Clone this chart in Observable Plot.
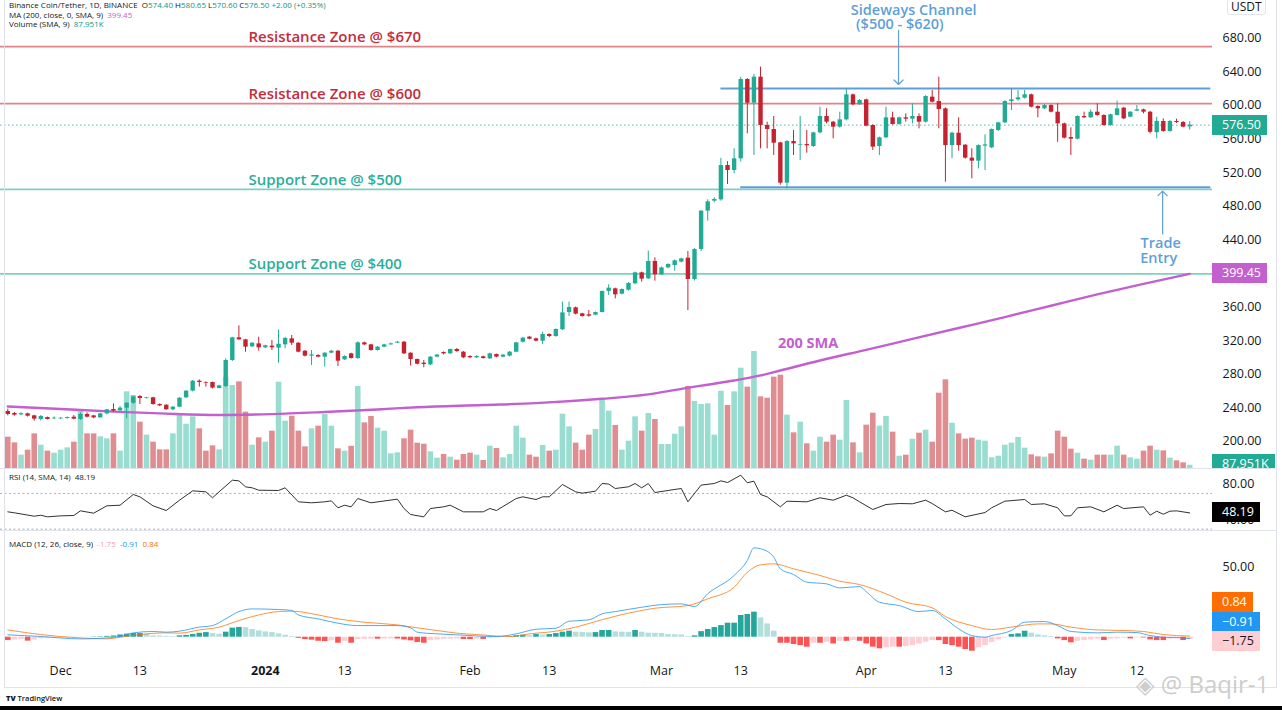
<!DOCTYPE html>
<html><head><meta charset="utf-8">
<script src="https://cdn.jsdelivr.net/npm/d3@7"></script>
<script src="https://cdn.jsdelivr.net/npm/@observablehq/plot@0.6"></script>
<style>
html,body{margin:0;padding:0;background:#fff;overflow:hidden;}
#wrap{position:relative;width:1282px;height:710px;overflow:hidden;background:#fff;font-family:"Open Sans","DejaVu Sans",sans-serif;}
#wrap svg{position:absolute;left:0;}
.hdr{position:absolute;left:9px;font-size:8px;color:#131722;white-space:nowrap;line-height:10px;}
.box{position:absolute;left:1212px;height:20px;line-height:20px;font-size:12.5px;padding:0 6px 0 10px;color:#fff;white-space:nowrap;overflow:hidden;}
.sep{position:absolute;background:#e0e3eb;}
</style></head><body><div id="wrap"></div>
<script>
// ---------- DATA (daily candles, BNB/USDT, starting 2023-11-23) ----------
const startDate = "2023-11-23";
const opens = [235.6,233.2,231.6,232.8,230.4,226.1,228.4,226.8,226.8,227.2, 228.8,226.1,232.0,230.4,228.0,232.8,238.0,236.4,239.6,245.5, 253.4,251.1,251.9,243.9,243.1,237.6,240.7,251.9,259.8,271.7, 270.1,270.1,263.0,265.3,296.3,323.3,320.9,312.6,316.1,311.4, 313.4,311.0,314.9,322.1,316.9,307.4,301.5,302.3,300.3,305.0, 307.4,297.1,304.2,298.7,317.3,314.9,308.2,312.2,314.9,316.9, 318.1,305.0,297.5,293.1,291.1,300.3,305.8,304.2,309.4,306.2, 301.1,299.5,300.7,298.3,303.4,300.3,301.5,306.2,318.1,324.1, 322.1,319.3,327.3,324.9,332.8,353.4,359.0,351.9,350.7,350.3, 353.4,378.5,381.6,375.3,380.0,387.6,400.7,393.5,414.2,398.3, 406.6,409.4,413.4,418.1,392.7,428.5,474.1,486.0,487.6,528.4, 522.5,536.4,630.8,602.6,633.6,576.1,571.3,555.4,507.4,557.0, 552.6,553.4,551.1,567.3,586.8,580.0,574.1,582.8,612.6,600.7, 606.6,576.1,551.1,561.4,585.2,577.3,585.2,583.6,586.8,580.0, 609.8,604.6,595.9,552.2,566.9,552.6,537.2,533.6,551.5,549.5, 570.1,579.2,604.6,606.6,608.6,612.6,598.7,595.9,599.9,591.9, 578.0,561.8,559.8,586.8,585.2,591.9,588.0,576.1,588.0,596.7, 586.0,593.1,594.7,591.9,567.5,580.8,568.9,580.8,579.6,574.4];
const highs = [238.4,234.5,234.0,233.6,231.0,230.8,229.0,229.2,228.5,229.0, 230.8,234.0,234.0,231.0,233.5,238.0,244.7,241.5,246.0,254.0, 254.6,252.5,252.5,244.5,243.5,241.5,252.0,260.5,272.5,273.3, 270.9,270.5,266.8,298.3,324.0,337.6,321.5,317.5,324.1,314.5, 320.1,332.8,324.1,326.1,317.5,308.0,308.2,303.0,305.5,308.0, 308.2,301.8,305.0,318.5,318.1,315.5,313.0,315.5,317.0,319.0, 319.0,305.5,298.0,296.3,301.0,303.5,306.5,310.0,310.5,307.0, 302.0,302.0,301.5,305.0,304.0,303.5,307.0,318.0,324.0,325.0, 323.0,330.0,328.0,334.0,365.8,365.8,360.0,352.5,355.8,354.0, 379.0,386.4,382.5,381.5,389.0,401.5,401.5,426.5,418.5,407.5, 411.5,416.0,418.0,426.1,429.5,475.0,487.6,490.0,537.0,533.0, 548.3,633.6,632.0,636.8,645.5,580.0,586.8,556.0,558.0,570.1, 587.0,570.1,568.0,597.9,595.9,581.0,591.9,619.7,613.5,607.0, 607.5,577.0,562.2,597.9,591.9,586.0,589.9,601.9,589.9,611.5, 617.7,633.6,597.0,568.0,585.2,553.5,548.3,553.0,565.0,572.0, 580.0,605.5,619.7,617.7,617.7,613.5,599.5,601.0,600.7,601.9, 579.0,573.3,587.5,591.9,594.7,601.9,588.8,589.5,605.0,597.5, 592.5,599.9,595.5,593.0,586.0,584.0,582.0,583.6,580.8,580.65];
const lows = [230.4,230.0,230.8,229.0,224.1,224.1,225.5,225.7,226.0,226.5, 225.7,225.0,228.0,227.0,227.5,231.5,234.8,235.0,226.8,244.0, 243.9,250.5,243.0,241.5,237.0,236.5,240.0,251.0,259.0,264.6, 264.6,262.5,262.5,264.0,295.0,320.5,306.2,311.5,307.4,310.5, 308.2,293.1,310.2,314.2,305.5,300.5,290.3,299.5,288.4,304.5, 289.2,296.3,298.0,297.5,314.2,307.5,307.5,311.5,314.5,316.5, 303.5,289.9,291.0,287.6,290.0,299.5,303.0,303.5,306.0,298.5, 298.5,298.5,298.0,297.5,299.5,299.5,300.5,305.5,317.0,321.0, 318.5,315.3,323.5,324.0,332.0,348.7,350.5,347.9,347.9,349.5, 353.0,373.7,369.7,374.5,379.0,386.5,389.6,392.5,390.8,397.5, 405.5,402.7,412.5,355.8,391.0,426.0,462.2,484.0,486.0,505.8, 518.5,532.5,566.1,540.4,548.3,548.3,540.4,505.0,500.7,540.4, 534.4,543.1,550.0,566.0,578.0,560.2,573.0,581.5,599.5,600.0, 574.5,546.3,540.4,560.5,576.5,576.5,580.0,578.0,572.1,579.0, 603.0,572.1,508.6,536.4,545.5,536.0,512.6,524.4,522.5,548.5, 569.0,578.5,593.9,605.0,607.5,597.0,585.2,595.0,591.0,556.2, 560.0,540.4,559.0,584.5,584.5,587.0,575.3,575.3,587.5,583.0, 585.2,592.5,589.9,566.0,560.2,568.0,568.0,578.5,573.3,570.6];
const closes = [232.0,231.2,233.0,230.0,226.5,229.6,226.1,227.6,227.6,228.4, 226.5,232.0,228.8,228.0,232.8,237.6,236.0,239.6,245.5,253.0, 251.1,251.9,243.9,242.3,237.6,240.7,251.5,259.8,271.7,270.1, 269.3,263.4,266.1,296.3,323.3,320.9,312.2,316.9,311.4,313.8, 311.4,315.7,322.5,316.9,306.2,301.5,303.0,300.3,305.0,307.4, 295.5,301.1,298.7,317.3,314.9,308.2,312.2,314.9,316.1,318.1, 304.2,297.5,291.9,291.5,300.3,302.7,304.2,309.4,307.0,299.5, 299.5,301.1,298.7,304.2,300.3,302.7,306.2,317.3,322.9,321.7, 319.3,327.3,324.9,333.2,353.0,359.4,351.5,348.7,349.1,353.4, 378.5,382.4,374.5,380.8,388.0,400.7,393.1,414.2,398.3,406.6, 410.6,415.0,417.3,392.7,428.5,474.1,485.2,488.0,528.4,522.5, 536.4,630.8,602.6,633.6,576.1,571.3,555.0,507.4,557.0,554.2, 553.4,551.9,567.3,586.8,580.0,574.1,582.8,612.6,600.7,605.8, 575.3,550.3,561.4,585.2,577.3,585.2,583.6,586.8,580.0,610.6, 603.8,595.1,552.2,566.9,552.2,537.2,533.6,552.2,553.0,571.3, 579.2,604.6,606.6,609.0,612.6,597.9,595.9,599.9,591.9,578.0, 561.0,559.8,586.8,585.2,591.9,588.0,576.1,588.8,595.9,584.0, 591.9,594.7,591.9,568.0,581.0,568.9,580.8,579.6,574.1,576.5];
// volume in thousands of BNB
const volumes = [846,693,360,495,936,630,468,414,495,558, 711,1593,936,936,855,801,936,468,2070,1971, 1251,900,711,504,504,936,1458,1197,1395,1071, 468,612,504,2466,2241,2340,1521,630,828,711, 1008,2331,1278,1413,1008,585,1071,1143,1458,1143, 531,468,600,2214,1233,1404,1089,1008,396,423, 801,1035,684,657,450,279,378,306,225,378, 414,360,216,603,540,288,378,1143,819,360, 306,621,468,495,1467,1125,684,495,900,1053, 1863,1548,1161,495,738,1395,1008,1485,1323,648, 648,927,1125,2214,1809,1728,1746,900,2088,1701, 2070,2709,2196,3159,1935,1899,2466,2520,1440,963, 1251,666,468,846,711,900,765,1836,693,423, 1170,1494,1143,1404,981,333,360,792,954,1035, 711,2034,2394,1224,936,792,819,765,738,288, 333,630,684,837,549,369,315,306,396,1008, 846,522,414,252,225,360,360,360,603,360, 288,252,468,603,495,477,279,207,153,88];
// 200-day SMA read at sample days (day index, value)
const smaIdx = [0,8,16,24,32,40,48,56,62,72,80,90,97,102,106,110,114,117,123,130,137,144,151,158,165,172,179];
const smaVal = [241.5,238.5,235.5,233,231.5,232.5,235,238,240.7,243.3,245.5,250.7,256,262.6,267.5,272.5,278.5,284.4,296.3,309,322,335,348,361.5,375,387.5,399.45];
// RSI(14) read at sample days
const rsiIdx = [0,1,4,5,6,8,10,11,13,15,17,19,20,22,24,26,28,30,31,32,34,35,36,37,38,41,42,44,46,48,49,50,51,52,53,55,59,60,61,63,64,66,67,69,72,73,74,77,78,80,81,82,84,86,87,89,90,91,92,94,95,96,97,98,100,102,103,105,107,108,109,111,112,113,114,115,117,118,121,123,125,127,128,129,131,133,135,137,139,140,142,143,145,148,149,151,154,155,157,159,160,161,162,164,166,168,169,172,173,174,175,176,177,179];
const rsiVal = [49.4,48.3,44.5,45.6,43.8,44.9,45.3,50.5,47.9,56.1,56.8,68.8,66.2,56.1,50.9,62.4,72.9,71.8,65.1,71.8,84.8,84.1,77.4,76.3,73.6,73.3,76.3,60.6,59.5,60.6,61.7,53.9,56.8,55.0,64.3,59.5,63.6,53.1,46.4,43.8,53.1,55.0,56.8,49.4,49.4,53.1,50.9,64.3,66.2,63.2,66.2,66.2,80.0,71.8,70.3,72.5,81.1,80.5,75.5,77.4,81.1,76.3,81.1,71.0,73.3,75.5,60.6,79.3,81.1,84.1,82.2,90.4,81.9,83.7,68.8,66.2,55.0,61.3,60.6,65.1,62.4,68.0,65.1,60.6,52.0,57.6,58.7,58.4,62.4,58.7,49.4,51.2,43.8,48.6,53.9,61.3,63.2,57.6,58.4,53.9,44.9,44.9,53.9,55.0,49.4,56.8,53.1,55.0,45.6,50.1,46.7,50.1,50.5,48.19];
// MACD(12,26,9) line and signal read at sample days
const macdIdx = [0,5,11,15,17,19,22,24,26,29,31,33,35,37,41,43,44,47,50,53,59,61,62,65,68,71,74,77,80,83,85,88,90,92,96,99,102,104,106,110,112,113,115,116,117,119,121,124,126,129,130,132,135,138,140,142,144,146,148,149,152,154,157,159,161,165,168,171,173,175,177,179];
const macdVal = [1.7,0.5,-1.2,-0.5,0.5,3.1,4.1,3.6,4.3,7.2,8.3,13.1,18.3,20.2,19.8,19.1,15.9,13.1,10.0,8.3,8.3,6.7,3.6,2.4,1.7,0.9,0.5,2.4,5.7,6.4,11.4,12.4,16.7,18.3,21.4,23.3,23.8,21.9,31.0,44.1,54.8,63.8,61.4,57.2,48.8,44.8,39.3,38.1,35.2,36.2,32.6,25.0,22.6,18.3,19.1,13.1,6.0,1.2,0,1.2,4.8,10.7,11.2,8.3,4.1,3.1,3.6,3.3,1.2,0,-0.2,-0.91];
const signalIdx = [0,5,11,15,17,20,24,26,29,32,35,38,41,43,47,50,54,59,62,65,68,71,76,79,83,86,90,94,98,103,106,110,112,114,116,119,123,126,129,133,136,140,142,146,149,152,156,158,161,165,169,172,175,179];
const signalVal = [5.2,1.9,-0.5,-1.2,0,1.9,3.1,2.9,5.2,7.2,11.9,15.9,18.3,18.6,15.9,13.1,10.7,8.8,6.7,4.8,2.9,1.9,0.5,2.4,4.3,7.2,12.5,17.2,20.7,22.6,27.4,35.7,46.4,51.7,52.4,48.8,44.1,40.0,37.6,31.0,25.0,21.0,14.8,8.3,5.5,7.2,9.5,9.5,7.2,5.2,4.8,4.1,1.9,0.84];
// MACD histogram, one value per day
const hist = [-2.4,-2.0,-1.5,-2.8,-2.0,-1.2,-1.0,-0.8,-0.6,-0.4, -0.3,-0.2,0.05,0.2,0.3,0.6,0.9,1.6,2.2,2.6, 2.6,2.2,1.0,0.9,0.6,0.4,1.0,1.3,2.0,2.8, 3.3,2.6,2.1,3.6,6.5,7.0,6.8,5.5,4.5,3.8, 3.3,2.4,1.4,0.5,-0.8,-1.7,-2.1,-2.9,-3.1,-2.6, -4.3,-2.9,-4.3,-1.7,-1.5,-1.4,-1.4,-1.3,-1.2,-1.3, -2.0,-2.6,-3.8,-4.3,-2.4,-2.0,-1.6,-1.4,-1.2,-1.6, -1.7,-1.4,-1.6,-0.8,-0.5,-0.2,0.3,1.0,1.4,1.2, 1.9,1.6,1.9,2.6,3.6,4.3,3.6,3.3,3.1,3.3, 4.8,4.8,3.8,3.6,3.5,4.8,3.6,2.9,2.8,2.7, 1.9,1.8,1.6,0.5,1.0,4.0,5.5,6.9,8.3,10.0, 10.0,15.5,16.2,17.9,13.8,9.5,4.3,-4.3,-4.3,-5.2, -6.0,-7.1,-4.3,-4.3,-3.6,-4.8,-2.9,-2.9,-2.4,-2.9, -4.8,-7.1,-8.3,-7.6,-7.1,-7.1,-6.7,-6.0,-4.8,-3.6, -2.4,-2.4,-5.2,-6.0,-7.1,-8.8,-10.0,-7.6,-6.0,-3.8, -1.9,-0.5,1.9,2.4,4.3,2.9,1.7,1.0,0.5,-1.2, -2.4,-4.0,-2.9,-2.4,-1.9,-1.4,-2.4,-1.4,-1.2,-0.7, -1.2,-0.5,-0.5,-1.9,-2.4,-2.4,-1.4,-1.2,-2.4,-1.75];
// horizontal zones drawn on the chart
const levelPrices = [670, 602, 500, 399.5];
const levelLabels = ["Resistance Zone @ $670", "Resistance Zone @ $600", "Support Zone @ $500", "Support Zone @ $400"];
const levelKinds = ["res", "res", "sup", "sup"];
const levelLabelIdx = 36.45;
// sideways channel (price, start day index, end day index)
const channelPrices = [620, 502.5];
const channelFrom = [108, 111];
const channelTo = 182.2;
// text annotations (day index, price)
const noteText = ["Sideways Channel", "($500 - $620)", "Trade", "Entry", "200 SMA"];
const noteIdx = [137.2, 135.1, 174.6, 174.3, 121.2];
const notePrice = [713.4, 696.0, 436.0, 417.4, 316.5];
const arrowIdx = [134.9, 174.9];
const arrowFrom = [689.2, 447.0];
const arrowTo = [624.9, 497.9];
// axes
const priceTicks = [200,240,280,320,360,400,440,480,520,560,600,640,680];
const rsiTicks = [80, 40];
const macdTicks = [50];
const timeTickDates = ["2023-12-01","2023-12-13","2024-01-01","2024-01-13","2024-02-01","2024-02-13","2024-03-01","2024-03-13","2024-04-01","2024-04-13","2024-05-01","2024-05-12"];
const timeTickLabels = ["Dec","13","2024","13","Feb","13","Mar","13","Apr","13","May","12"];

// ---------- STYLE ----------
const W = 1282, MR = 70;
const FONT = '"Open Sans","DejaVu Sans",sans-serif';
const UP = "#22ab94", DN = "#c4222f";
const VUP = "#98ddd0", VDN = "#e08d91";
const RES_LINE = "#e2838a", RES_TXT = "#c42b3b";
const SUP_LINE = "#7fd0c3", SUP_TXT = "#2aae9b";
const BLUE = "#5f9fd8", PURPLE = "#c35fcf";
const INK = "#131722";

const t0 = Date.parse(startDate + "T00:00:00Z"), DAY = 864e5;
const at = i => new Date(t0 + i * DAY);
const xOpt = {type: "utc", domain: [at(-1.106), at(182.45)], axis: null};
const fmt2 = d3.format(".2f");

const candles = closes.map((c, i) => ({date: at(i), o: opens[i], h: highs[i], l: lows[i], c, v: volumes[i], up: c >= opens[i]}));
const sma = smaIdx.map((d, i) => ({date: at(d), v: smaVal[i]}));
const rsi = rsiIdx.map((d, i) => ({date: at(d), v: rsiVal[i]}));
const macd = macdIdx.map((d, i) => ({date: at(d), v: macdVal[i]}));
const signal = signalIdx.map((d, i) => ({date: at(d), v: signalVal[i]}));
const histData = hist.map((h, i) => {
  const p = i ? hist[i - 1] : h;
  const color = h >= 0 ? (h >= p ? "#26a69a" : "#b2dfdb") : (h <= p ? "#ff5252" : "#ffcdd2");
  return {date: at(i), h, color};
});
const levels = levelPrices.map((p, i) => ({p, label: levelLabels[i], kind: levelKinds[i], date: at(levelLabelIdx)}));
const channels = channelPrices.map((p, i) => ({p, from: at(channelFrom[i]), to: at(channelTo)}));
const notes = noteText.map((t, i) => ({t, date: at(noteIdx[i]), p: notePrice[i], color: i === 4 ? PURPLE : BLUE}));
const arrows = arrowIdx.map((d, i) => ({date: at(d), from: arrowFrom[i], to: arrowTo[i]}));
const timeTicks = timeTickDates.map((d, i) => ({date: new Date(d + "T00:00:00Z"), label: timeTickLabels[i]}));

const baseStyle = {background: "transparent", fontFamily: FONT, fontSize: "12.5px", color: INK, overflow: "visible"};
const wrap = document.getElementById("wrap");
function place(el, top) { el.style.top = top + "px"; wrap.appendChild(el); return el; }

// Volume overlay (behind price)
const volPlot = Plot.plot({
  width: W, height: 468, marginLeft: 0, marginRight: MR, marginTop: 0, marginBottom: 0,
  style: baseStyle, x: xOpt, y: {domain: [0, 468 * 27], axis: null},
  marks: [Plot.ruleX(candles, {x: "date", y1: 0, y2: "v", stroke: d => d.up ? VUP : VDN, strokeWidth: 5.6})]
});
place(volPlot, 0);

// Main price pane
const mainPlot = Plot.plot({
  width: W, height: 468, marginLeft: 0, marginRight: MR, marginTop: 0, marginBottom: 0,
  style: baseStyle, x: xOpt, y: {domain: [167.73, 724.88], axis: null},
  marks: [
    Plot.axisY(priceTicks, {anchor: "right", tickSize: 0, tickPadding: 10, tickFormat: fmt2, label: null, fill: INK}),
    Plot.ruleY(levels, {y: "p", stroke: d => d.kind === "res" ? RES_LINE : SUP_LINE, strokeWidth: 1.7}),
    Plot.ruleY(channels, {y: "p", x1: "from", x2: "to", stroke: BLUE, strokeWidth: 2}),
    Plot.ruleY([closes[closes.length - 1]], {stroke: UP, strokeWidth: 1, strokeDasharray: "1.5,2.5", strokeOpacity: 0.8}),
    Plot.line(sma, {x: "date", y: "v", stroke: PURPLE, strokeWidth: 2.4, curve: "monotone-x"}),
    Plot.ruleX(candles, {x: "date", y1: "l", y2: "h", stroke: d => d.up ? UP : DN, strokeWidth: 1}),
    Plot.ruleX(candles, {x: "date", y1: "o", y2: "c", stroke: d => d.up ? UP : DN, strokeWidth: 4.4}),
    Plot.text(levels, {x: "date", y: "p", text: "label", textAnchor: "start", dy: -9.5, fill: d => d.kind === "res" ? RES_TXT : SUP_TXT, fontSize: 15, fontWeight: 600}),
    Plot.text(notes.slice(0, 4), {x: "date", y: "p", text: "t", fill: "color", fontSize: 14.5, fontWeight: 600}),
    Plot.text(notes.slice(4), {x: "date", y: "p", text: "t", fill: "color", fontSize: 14.5, fontWeight: 700}),
    Plot.arrow(arrows, {x1: "date", x2: "date", y1: "from", y2: "to", stroke: BLUE, strokeWidth: 1.2, headLength: 8, headAngle: 90})
  ]
});
place(mainPlot, 0);

// RSI pane
const rsiPlot = Plot.plot({
  width: W, height: 62, marginLeft: 0, marginRight: MR, marginTop: 0, marginBottom: 0,
  style: baseStyle, x: xOpt, y: {domain: [28.5, 97.9], axis: null},
  marks: [
    Plot.axisY(rsiTicks, {anchor: "right", tickSize: 0, tickPadding: 10, tickFormat: fmt2, label: null, fill: INK}),
    Plot.ruleY([70, 30], {stroke: "#9598a1", strokeWidth: 0.8, strokeDasharray: "2,2.5"}),
    Plot.line(rsi, {x: "date", y: "v", stroke: "#1a1a1a", strokeWidth: 0.9})
  ]
});
place(rsiPlot, 468);

// MACD pane + time axis
const macdPlot = Plot.plot({
  width: W, height: 160, marginLeft: 0, marginRight: MR, marginTop: 0, marginBottom: 32,
  style: baseStyle, x: xOpt, y: {domain: [-15.2, 76.2], axis: null},
  marks: [
    Plot.axisY(macdTicks, {anchor: "right", tickSize: 0, tickPadding: 10, tickFormat: fmt2, label: null, fill: INK}),
    Plot.ruleX(histData, {x: "date", y1: 0, y2: "h", stroke: "color", strokeWidth: 5.6}),
    Plot.line(signal, {x: "date", y: "v", stroke: "#ff6d00", strokeWidth: 1, strokeOpacity: 0.75, curve: "monotone-x"}),
    Plot.line(macd, {x: "date", y: "v", stroke: "#2196f3", strokeWidth: 1, strokeOpacity: 0.8, curve: "monotone-x"}),
    Plot.text(timeTicks.filter(d => d.label !== "2024"), {x: "date", text: "label", frameAnchor: "bottom", dy: 16, fontSize: 12.5, fill: INK}),
    Plot.text(timeTicks.filter(d => d.label === "2024"), {x: "date", text: "label", frameAnchor: "bottom", dy: 16, fontSize: 12.5, fontWeight: 700, fill: INK})
  ]
});
place(macdPlot, 530);

// ---------- HTML overlays: legends, price boxes, frame ----------
function div(cls, css, html) { const d = document.createElement("div"); if (cls) d.className = cls; Object.assign(d.style, css); if (html != null) d.innerHTML = html; wrap.appendChild(d); return d; }
const G = s => `<span style="color:#089981">${s}</span>`;
div("hdr", {top: "0px"}, `Binance Coin/Tether, 1D, BINANCE&nbsp; O${G("574.40")} H${G("580.65")} L${G("570.60")} C${G("576.50")} ${G("+2.00 (+0.35%)")}`);
div("hdr", {top: "9.7px"}, `MA (200, close, 0, SMA, 9)&nbsp; <span style="color:${PURPLE}">399.45</span>`);
div("hdr", {top: "18.5px"}, `Volume (SMA, 9)&nbsp; ${G("87.951K")}`);
div("hdr", {top: "472px"}, `RSI (14, SMA, 14)&nbsp; 48.19`);
div("hdr", {top: "539px"}, `MACD (12, 26, close, 9)&nbsp; <span style="color:#f5a3ab">-1.75</span>&nbsp; <span style="color:#2196f3">-0.91</span>&nbsp; <span style="color:#ff6d00">0.84</span>`);

// separators / frame
div("sep", {left: "0px", top: "468px", width: "1277px", height: "1px"});
div("sep", {left: "0px", top: "530px", width: "1277px", height: "1px"});
div("sep", {left: "4px", top: "0px", width: "1px", height: "687px"});
div("sep", {left: "1276px", top: "0px", width: "1px", height: "687px"});
div("sep", {left: "4px", top: "687px", width: "1273px", height: "1px"});
div(null, {position: "absolute", left: "0px", top: "706px", width: "1282px", height: "4px", background: "#000"});
div(null, {position: "absolute", left: "6px", top: "693px", fontSize: "7.5px", color: "#131722", fontWeight: "600"}, "<b>TV</b> TradingView");
div(null, {position: "absolute", left: "1136px", top: "667px", fontSize: "24px", color: "#cdcdcd", fontFamily: FONT, whiteSpace: "nowrap"}, "<span style='font-family:DejaVu Sans'>&#x25C8;</span> @ Baqir-1");
div(null, {position: "absolute", left: "1227px", top: "-2px", height: "15px", lineHeight: "16px", padding: "0 3px", border: "1px solid #e0e3eb", borderRadius: "3px", fontSize: "12px", color: INK, background: "#fff"}, "USDT");

// value boxes positioned through the plots' own scales
const yMain = mainPlot.scale("y"), yVol = volPlot.scale("y"), yRsi = rsiPlot.scale("y"), yMacd = macdPlot.scale("y");
const lastClose = closes[closes.length - 1];
div("box", {top: (yMain.apply(lastClose) - 10) + "px", background: UP}, fmt2(lastClose));
div("box", {top: (yMain.apply(smaVal[smaVal.length - 1]) - 10) + "px", background: PURPLE}, fmt2(smaVal[smaVal.length - 1]));
div("box", {top: Math.min(yVol.apply(volumes[volumes.length - 1]) - 10, 454) + "px", height: "14px", lineHeight: "20px", background: UP}, "87.951K");
div("box", {top: (468 + yRsi.apply(rsiVal[rsiVal.length - 1]) - 10) + "px", background: "#000"}, fmt2(rsiVal[rsiVal.length - 1]));
const pinkTop = 530 + yMacd.apply(hist[hist.length - 1]) - 8;
div("box", {top: (pinkTop - 39) + "px", background: "#ff6d00"}, fmt2(signalVal[signalVal.length - 1]));
div("box", {top: (pinkTop - 19.5) + "px", background: "#2196f3"}, fmt2(macdVal[macdVal.length - 1]));
div("box", {top: pinkTop + "px", background: "#ffcdd2", color: INK}, fmt2(hist[hist.length - 1]));
</script></body></html>
